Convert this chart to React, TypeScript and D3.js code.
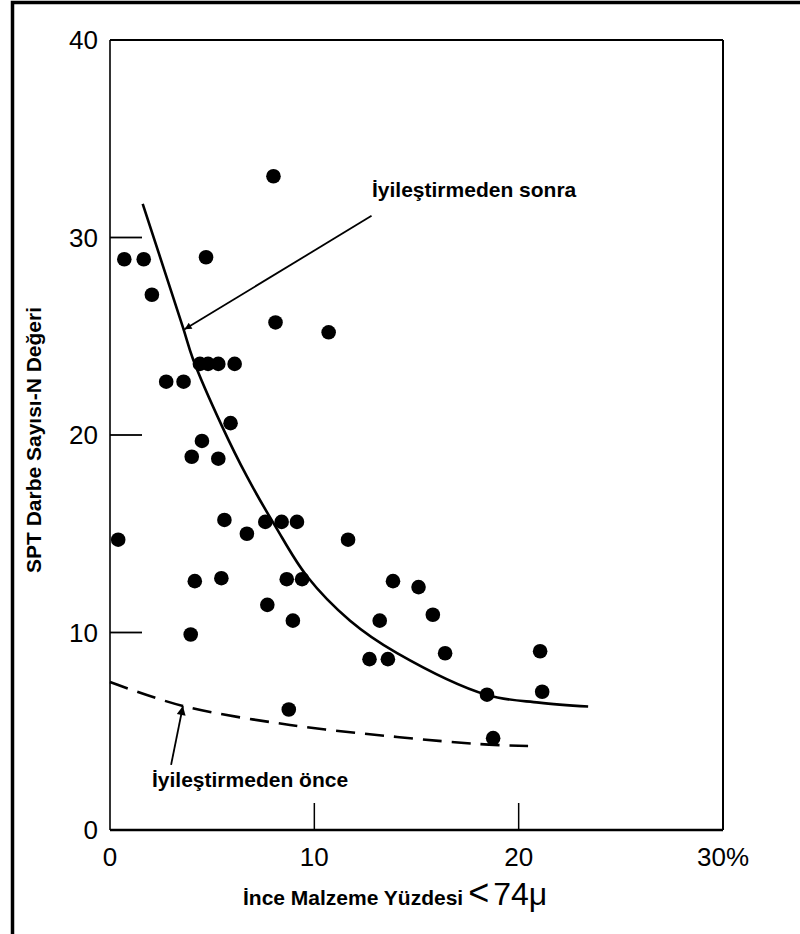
import React, { useEffect, useRef } from 'react';
import * as d3 from 'd3';

// measured points (fines %, SPT N)
const pointsX = [8.0, 0.7, 1.65, 4.7, 2.05, 8.1, 10.7, 4.4, 4.8, 5.3, 6.1, 2.75, 3.6, 5.9, 4.5, 4.0, 5.3, 5.6, 7.6, 8.4, 9.15, 6.7, 0.4, 11.65, 4.15, 5.45, 8.65, 9.4, 13.85, 7.7, 8.95, 13.2, 15.1, 15.8, 3.95, 12.7, 13.6, 8.75, 16.4, 21.05, 18.45, 21.15, 18.75];
const pointsY = [33.1, 28.9, 28.9, 29.0, 27.1, 25.7, 25.2, 23.6, 23.6, 23.6, 23.6, 22.7, 22.7, 20.6, 19.7, 18.9, 18.8, 15.7, 15.6, 15.6, 15.6, 15.0, 14.7, 14.7, 12.6, 12.75, 12.7, 12.7, 12.6, 11.4, 10.6, 10.6, 12.3, 10.9, 9.9, 8.65, 8.65, 6.1, 8.95, 9.05, 6.85, 7.0, 4.65];

// "after improvement" trend curve
const afterX = [1.6, 3.57, 4.06, 5.48, 6.7, 8.08, 9.64, 11.75, 14.05, 18.45, 21.0, 23.4];
const afterY = [31.7, 25.45, 23.85, 20.45, 17.9, 15.4, 12.85, 10.6, 8.96, 6.84, 6.45, 6.25];

// "before improvement" trend curve
const beforeX = [0, 3.57, 8.81, 14.05, 18.1, 20.46];
const beforeY = [7.49, 6.28, 5.32, 4.71, 4.35, 4.25];

const yTicks = [0, 10, 20, 30, 40];
const xTicks = [0, 10, 20];
const xTickLabels = ['0', '10', '20'];

const App = () => {
  const svgRef = useRef(null);

  useEffect(() => {
    document.body.style.margin = '0';
    const svg = d3.select(svgRef.current);
    svg.selectAll('*').remove();

    const x = d3.scaleLinear().domain([0, 30]).range([110, 723]);
    const y = d3.scaleLinear().domain([0, 40]).range([830, 40]);

    svg.append('rect').attr('width', 800).attr('height', 934).attr('fill', '#fff');

    // outer frame (left + top)
    svg.append('path')
      .attr('d', 'M12.5,934 L12.5,2.5 L800,2.5')
      .attr('fill', 'none').attr('stroke', '#000').attr('stroke-width', 3.5);

    // plot box
    svg.append('line').attr('x1', x(0)).attr('x2', x(0)).attr('y1', y(40)).attr('y2', y(0))
      .attr('stroke', '#000').attr('stroke-width', 1.6);
    svg.append('line').attr('x1', x(0)).attr('x2', x(30)).attr('y1', y(40)).attr('y2', y(40))
      .attr('stroke', '#000').attr('stroke-width', 2.2);
    svg.append('line').attr('x1', x(30)).attr('x2', x(30)).attr('y1', y(40)).attr('y2', y(0))
      .attr('stroke', '#000').attr('stroke-width', 2);
    svg.append('line').attr('x1', x(0)).attr('x2', x(30)).attr('y1', y(0)).attr('y2', y(0))
      .attr('stroke', '#000').attr('stroke-width', 2.6);

    // inward ticks
    svg.selectAll('.ytick').data([10, 20, 30]).enter().append('line')
      .attr('x1', x(0)).attr('x2', x(0) + 32)
      .attr('y1', d => y(d)).attr('y2', d => y(d))
      .attr('stroke', '#000').attr('stroke-width', 1.8);
    svg.selectAll('.xtick').data([10, 20]).enter().append('line')
      .attr('x1', d => x(d)).attr('x2', d => x(d))
      .attr('y1', y(0)).attr('y2', y(0) - 27)
      .attr('stroke', '#000').attr('stroke-width', 1.5);

    const font = '"Liberation Sans", Arial, sans-serif';
    svg.selectAll('.ylab').data(yTicks).enter().append('text')
      .attr('x', 98).attr('y', d => y(d) + 9)
      .attr('text-anchor', 'end')
      .attr('font-family', font).attr('font-size', 26)
      .text(d => d);
    svg.selectAll('.xlab').data(xTicks).enter().append('text')
      .attr('x', d => x(d)).attr('y', 866)
      .attr('text-anchor', 'middle')
      .attr('font-family', font).attr('font-size', 26)
      .text((d, i) => xTickLabels[i]);
    svg.append('text').attr('x', 697).attr('y', 866)
      .attr('font-family', font).attr('font-size', 26).text('30%');

    // axis titles
    svg.append('text')
      .attr('transform', `translate(41,440) rotate(-90)`)
      .attr('text-anchor', 'middle')
      .attr('font-family', font).attr('font-weight', 'bold').attr('font-size', 21)
      .text('SPT Darbe Sayısı-N Değeri');
    const xt = svg.append('text').attr('x', 243).attr('y', 905)
      .attr('font-family', font);
    xt.append('tspan').attr('font-weight', 'bold').attr('font-size', 21).text('İnce Malzeme Yüzdesi');
    xt.append('tspan').attr('dx', 5).attr('font-size', 36).text('<');
    xt.append('tspan').attr('dx', 4).attr('font-size', 32).text('74μ');

    const line = d3.line().curve(d3.curveCatmullRom.alpha(0.5)).x(d => x(d[0])).y(d => y(d[1]));

    svg.append('path')
      .datum(afterX.map((v, i) => [v, afterY[i]]))
      .attr('d', line)
      .attr('fill', 'none').attr('stroke', '#000').attr('stroke-width', 2.6);

    svg.append('path')
      .datum(beforeX.map((v, i) => [v, beforeY[i]]))
      .attr('d', line)
      .attr('fill', 'none').attr('stroke', '#000').attr('stroke-width', 2.6)
      .attr('stroke-dasharray', '19,10');

    svg.selectAll('.dot').data(pointsX.map((v, i) => [v, pointsY[i]])).enter().append('circle')
      .attr('cx', d => x(d[0])).attr('cy', d => y(d[1])).attr('r', 7.3)
      .attr('fill', '#000');

    // annotations with arrows
    const defs = svg.append('defs');
    defs.append('marker').attr('id', 'arr').attr('viewBox', '0 0 10 10')
      .attr('refX', 10).attr('refY', 5).attr('markerWidth', 14).attr('markerHeight', 7)
      .attr('markerUnits', 'userSpaceOnUse').attr('orient', 'auto')
      .append('path').attr('d', 'M0,0 L10,5 L0,10 z').attr('fill', '#000');
    defs.append('marker').attr('id', 'arr2').attr('viewBox', '0 0 10 10')
      .attr('refX', 10).attr('refY', 5).attr('markerWidth', 16).attr('markerHeight', 9)
      .attr('markerUnits', 'userSpaceOnUse').attr('orient', 'auto')
      .append('path').attr('d', 'M0,0 L10,5 L0,10 z').attr('fill', '#000');

    svg.append('line')
      .attr('x1', x(12.8)).attr('y1', y(31.1)).attr('x2', x(3.65)).attr('y2', y(25.35))
      .attr('stroke', '#000').attr('stroke-width', 1.8).attr('marker-end', 'url(#arr)');
    svg.append('text').attr('x', 372).attr('y', 197)
      .attr('font-family', font).attr('font-weight', 'bold').attr('font-size', 21)
      .text('İyileştirmeden sonra');

    svg.append('line')
      .attr('x1', x(2.99)).attr('y1', y(3.3)).attr('x2', x(3.57)).attr('y2', y(6.28))
      .attr('stroke', '#000').attr('stroke-width', 1.8).attr('marker-end', 'url(#arr2)');
    svg.append('text').attr('x', 152).attr('y', 787)
      .attr('font-family', font).attr('font-weight', 'bold').attr('font-size', 21)
      .text('İyileştirmeden önce');
  }, []);

  return <svg ref={svgRef} width={800} height={934} style={{ display: 'block' }}></svg>;
};

export default App;
